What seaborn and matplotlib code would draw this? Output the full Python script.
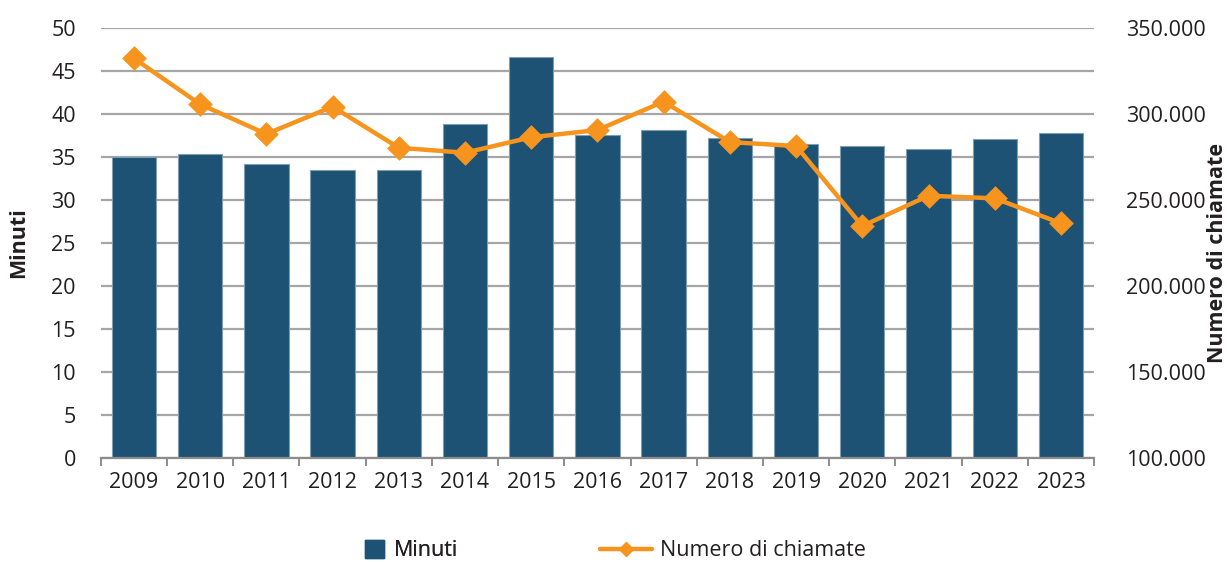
import matplotlib
matplotlib.use("Agg")
import matplotlib.pyplot as plt
from matplotlib.patches import Patch
from matplotlib.lines import Line2D
from matplotlib.ticker import FuncFormatter, MultipleLocator
import seaborn as sns
import pandas as pd

years = ["2009", "2010", "2011", "2012", "2013", "2014", "2015", "2016",
         "2017", "2018", "2019", "2020", "2021", "2022", "2023"]
minuti = [35.0, 35.3, 34.2, 33.5, 33.5, 38.8, 46.6, 37.5,
          38.1, 37.2, 36.5, 36.2, 35.9, 37.1, 37.8]
chiamate = [332200, 305500, 288200, 304100, 280200, 277300, 286300, 290500,
            307000, 283500, 281200, 234700, 252300, 250800, 236300]

BAR = "#1d5274"
ORANGE = "#f7941d"
GRID = "#a6a6a6"
TEXT = "#231f20"
FS = 15.5

sns.set_theme(style="white")
plt.rcParams["font.family"] = ["Open Sans", "DejaVu Sans"]
plt.rcParams["text.color"] = TEXT

df = pd.DataFrame({"Anno": years, "Minuti": minuti, "Chiamate": chiamate})

fig = plt.figure(figsize=(12.29, 5.62), dpi=100)
ax = fig.add_axes([0.0820, 0.1856, 0.8082, 0.7651])

sns.barplot(data=df, x="Anno", y="Minuti", color=BAR, width=0.67,
            edgecolor="#7f9db3", linewidth=0.8, saturation=1, ax=ax, zorder=2)
ax.set_ylim(0, 50)
ax.yaxis.set_major_locator(MultipleLocator(5))
ax.set_xlim(-0.5, len(years) - 0.5)
ax.grid(axis="y", color=GRID, linewidth=1.6, zorder=0)
ax.set_axisbelow(True)
for s in ["top", "left", "right"]:
    ax.spines[s].set_visible(False)
ax.spines["bottom"].set_color("#8c8c8c")
ax.spines["bottom"].set_linewidth(1.6)
ax.spines["bottom"].set_zorder(3)

# ticks on the category boundaries, labels centred under each bar
ax.set_xticks([i - 0.5 for i in range(len(years) + 1)], minor=False)
ax.set_xticklabels([])
ax.set_xticks(range(len(years)), minor=True)
ax.set_xticklabels(years, minor=True)
ax.tick_params(axis="x", which="major", bottom=True, length=6, width=1.4,
               color="#8c8c8c", direction="out")
ax.tick_params(axis="x", which="minor", bottom=False, length=0, pad=10,
               labelsize=FS, labelcolor=TEXT)
ax.tick_params(axis="y", length=0, pad=18, labelsize=FS, labelcolor=TEXT)
ax.set_xlabel("")
ax.set_ylabel("Minuti", fontsize=FS, fontweight="bold", color=TEXT)
ax.yaxis.set_label_coords(-0.072, 0.5)

ax2 = ax.twinx()
sns.pointplot(data=df, x="Anno", y="Chiamate", color=ORANGE, markers="D",
              markersize=10, linewidth=3.2, ax=ax2, zorder=4)
ax2.set_ylim(100000, 350000)
ax2.set_xlim(-0.5, len(years) - 0.5)
ax2.yaxis.set_major_locator(MultipleLocator(50000))
ax2.yaxis.set_major_formatter(FuncFormatter(lambda v, p: f"{int(v):,}".replace(",", ".")))
for s in ["top", "left", "right", "bottom"]:
    ax2.spines[s].set_visible(False)
ax2.grid(False)
ax2.tick_params(axis="y", length=0, pad=23, labelsize=FS, labelcolor=TEXT)
ax2.set_ylabel("Numero di chiamate", fontsize=FS, fontweight="bold", color=TEXT,
               rotation=90)
ax2.yaxis.set_label_coords(1.114, 0.476)
ax2.set_xlabel("")

leg1 = fig.legend(handles=[Patch(facecolor=BAR, edgecolor=BAR)], labels=["Minuti"],
                  loc="center left", bbox_to_anchor=(0.297, 0.02), frameon=False,
                  fontsize=FS, handlelength=0.9, handleheight=0.9,
                  handletextpad=0.45, borderpad=0, borderaxespad=0)
fig.add_artist(leg1)
fig.legend(handles=[Line2D([0], [0], color=ORANGE, lw=3.2, marker="D", markersize=7)],
           labels=["Numero di chiamate"], loc="center left",
           bbox_to_anchor=(0.488, 0.02), frameon=False, fontsize=FS,
           handlelength=2.45, handletextpad=0.33, borderpad=0, borderaxespad=0)

fig.savefig("out.png", dpi=100)
